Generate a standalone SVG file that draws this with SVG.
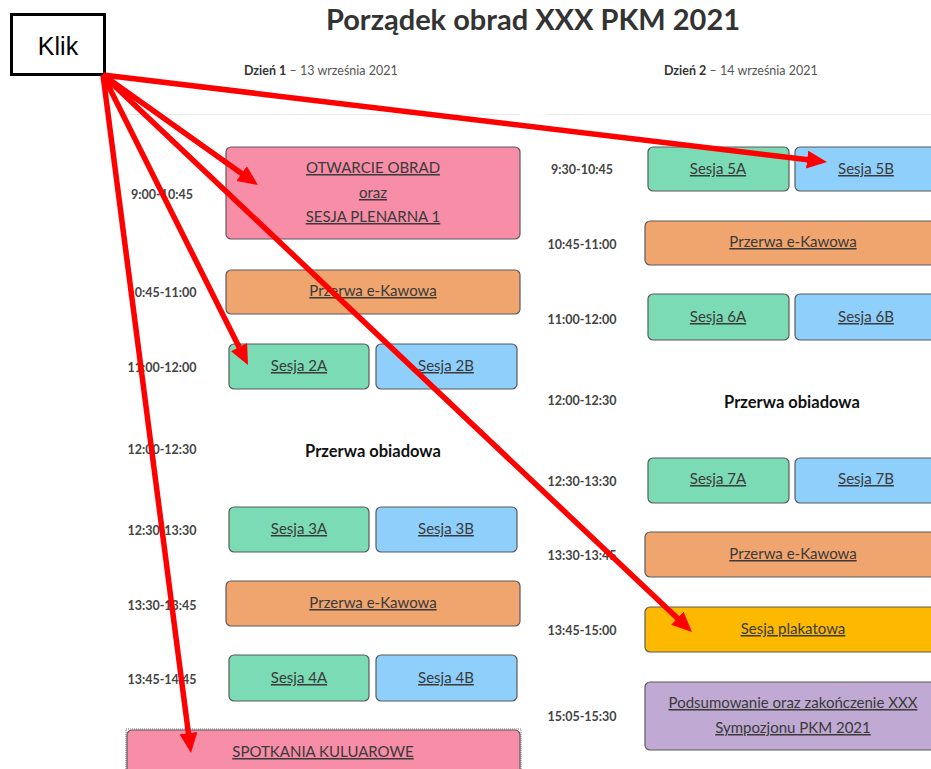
<svg xmlns="http://www.w3.org/2000/svg" width="931" height="769" viewBox="0 0 931 769">
<style>
.t{font-family:Lato,"Open Sans","Liberation Sans",sans-serif}
.title{font-size:29px;fill:#333;font-weight:bold}
.day{font-size:12.5px;fill:#555}
.time{font-size:12.5px;fill:#444;font-weight:bold;text-anchor:middle}
.lbl{font-size:15px;fill:#3a3a3a;text-anchor:middle;text-decoration:underline}
.plain{font-size:16.5px;fill:#111;text-anchor:middle;font-weight:bold}
.box{stroke:#5a5a5a;stroke-width:1.2}
.pink{fill:#F78DA7}.orange{fill:#F0A56E}.green{fill:#7ADBB4}.blue{fill:#8ECFFC}.yellow{fill:#FDB900}.violet{fill:#C0A9D3}
.arrow{stroke:#FF0000;stroke-width:5.5;fill:none;marker-end:url(#ah)}
</style>
<defs>
<marker id="ah" viewBox="0 0 20 18" markerUnits="userSpaceOnUse" markerWidth="20" markerHeight="18" refX="3" refY="9" orient="auto">
<path d="M0,0 L20,9 L0,18 z" fill="#FF0000"/>
</marker>
</defs>
<rect width="931" height="769" fill="#fff"/>
<g id="header">
<text class="t title" x="533" y="30" text-anchor="middle">Porządek obrad XXX PKM 2021</text>
<text class="t day" x="244" y="75"><tspan font-weight="bold" fill="#333">Dzień 1</tspan> – 13 września 2021</text>
<text class="t day" x="664" y="75"><tspan font-weight="bold" fill="#333">Dzień 2</tspan> – 14 września 2021</text>
<line x1="123" y1="114.5" x2="520" y2="114.5" stroke="#eaeaea"/>
<line x1="546" y1="114.5" x2="931" y2="114.5" stroke="#eaeaea"/>
</g>
<g id="times" class="t">
<text class="time" x="162" y="199">9:00-10:45</text>
<text class="time" x="162" y="297">10:45-11:00</text>
<text class="time" x="162" y="372">11:00-12:00</text>
<text class="time" x="162" y="454">12:00-12:30</text>
<text class="time" x="162" y="535">12:30-13:30</text>
<text class="time" x="162" y="610">13:30-13:45</text>
<text class="time" x="162" y="684">13:45-14:45</text>
<text class="time" x="582" y="174">9:30-10:45</text>
<text class="time" x="582" y="249">10:45-11:00</text>
<text class="time" x="582" y="324">11:00-12:00</text>
<text class="time" x="582" y="405">12:00-12:30</text>
<text class="time" x="582" y="486">12:30-13:30</text>
<text class="time" x="582" y="560">13:30-13:45</text>
<text class="time" x="582" y="635">13:45-15:00</text>
<text class="time" x="582" y="721">15:05-15:30</text>
</g>
<g id="otwarcie"><rect class="box pink" x="226" y="147" width="294" height="92" rx="5"/>
<text class="t lbl" x="373" y="173">OTWARCIE OBRAD</text>
<text class="t lbl" x="373" y="198" font-size="14">oraz</text>
<text class="t lbl" x="373" y="222">SESJA PLENARNA 1</text></g>
<g id="kawa1"><rect class="box orange" x="226" y="270" width="294" height="44" rx="5"/><text class="t lbl" x="373" y="296">Przerwa e-Kawowa</text></g>
<g id="s2a"><rect class="box green" x="229" y="344" width="140" height="45" rx="5"/><text class="t lbl" x="299" y="371">Sesja 2A</text></g>
<g id="s2b"><rect class="box blue" x="376" y="344" width="141" height="45" rx="5"/><text class="t lbl" x="446" y="371">Sesja 2B</text></g>
<g id="obiad1"><text class="t plain" x="373" y="457">Przerwa obiadowa</text></g>
<g id="s3a"><rect class="box green" x="229" y="507" width="140" height="45" rx="5"/><text class="t lbl" x="299" y="534">Sesja 3A</text></g>
<g id="s3b"><rect class="box blue" x="376" y="507" width="141" height="45" rx="5"/><text class="t lbl" x="446" y="534">Sesja 3B</text></g>
<g id="kawa2"><rect class="box orange" x="226" y="581" width="294" height="45" rx="5"/><text class="t lbl" x="373" y="608">Przerwa e-Kawowa</text></g>
<g id="s4a"><rect class="box green" x="229" y="655" width="140" height="46" rx="5"/><text class="t lbl" x="299" y="683">Sesja 4A</text></g>
<g id="s4b"><rect class="box blue" x="376" y="655" width="141" height="46" rx="5"/><text class="t lbl" x="446" y="683">Sesja 4B</text></g>
<g id="spotkania"><rect x="126" y="729" width="395" height="50" fill="none" stroke="#777" stroke-width="1" stroke-dasharray="1,1"/>
<rect class="box pink" x="127" y="730" width="393" height="48" rx="5"/><text class="t lbl" x="323" y="757">SPOTKANIA KULUAROWE</text></g>
<g id="s5a"><rect class="box green" x="648" y="147" width="141" height="44" rx="5"/><text class="t lbl" x="718" y="174">Sesja 5A</text></g>
<g id="s5b"><rect class="box blue" x="795" y="147" width="142" height="44" rx="5"/><text class="t lbl" x="866" y="174">Sesja 5B</text></g>
<g id="kawa3"><rect class="box orange" x="645" y="221" width="296" height="44" rx="5"/><text class="t lbl" x="793" y="247">Przerwa e-Kawowa</text></g>
<g id="s6a"><rect class="box green" x="648" y="294" width="141" height="46" rx="5"/><text class="t lbl" x="718" y="322">Sesja 6A</text></g>
<g id="s6b"><rect class="box blue" x="795" y="294" width="142" height="46" rx="5"/><text class="t lbl" x="866" y="322">Sesja 6B</text></g>
<g id="obiad2"><text class="t plain" x="792" y="408">Przerwa obiadowa</text></g>
<g id="s7a"><rect class="box green" x="648" y="458" width="141" height="45" rx="5"/><text class="t lbl" x="718" y="484">Sesja 7A</text></g>
<g id="s7b"><rect class="box blue" x="795" y="458" width="142" height="45" rx="5"/><text class="t lbl" x="866" y="484">Sesja 7B</text></g>
<g id="kawa4"><rect class="box orange" x="645" y="532" width="296" height="45" rx="5"/><text class="t lbl" x="793" y="559">Przerwa e-Kawowa</text></g>
<g id="plakat"><rect class="box yellow" x="645" y="607" width="296" height="45" rx="5"/><text class="t lbl" x="793" y="634">Sesja plakatowa</text></g>
<g id="podsum"><rect class="box violet" x="645" y="682" width="296" height="68" rx="5"/>
<text class="t lbl" x="793" y="708">Podsumowanie oraz zakończenie XXX</text>
<text class="t lbl" x="793" y="733">Sympozjonu PKM 2021</text></g>
<g id="klik"><rect x="11.5" y="14.5" width="93" height="60" fill="#fff" stroke="#000" stroke-width="3"/>
<text x="58" y="55" font-family="'Liberation Sans',Arial,sans-serif" font-size="25" text-anchor="middle" fill="#000">Klik</text></g>
<g id="connectors">
<line class="arrow" x1="103" y1="75" x2="810.1" y2="160"/>
<line class="arrow" x1="103" y1="75" x2="244.1" y2="175.2"/>
<line class="arrow" x1="103" y1="75" x2="240.4" y2="349.8"/>
<line class="arrow" x1="103" y1="75" x2="679.6" y2="620.3"/>
<line class="arrow" x1="103" y1="75" x2="188.8" y2="736.1"/>
</g>
</svg>
